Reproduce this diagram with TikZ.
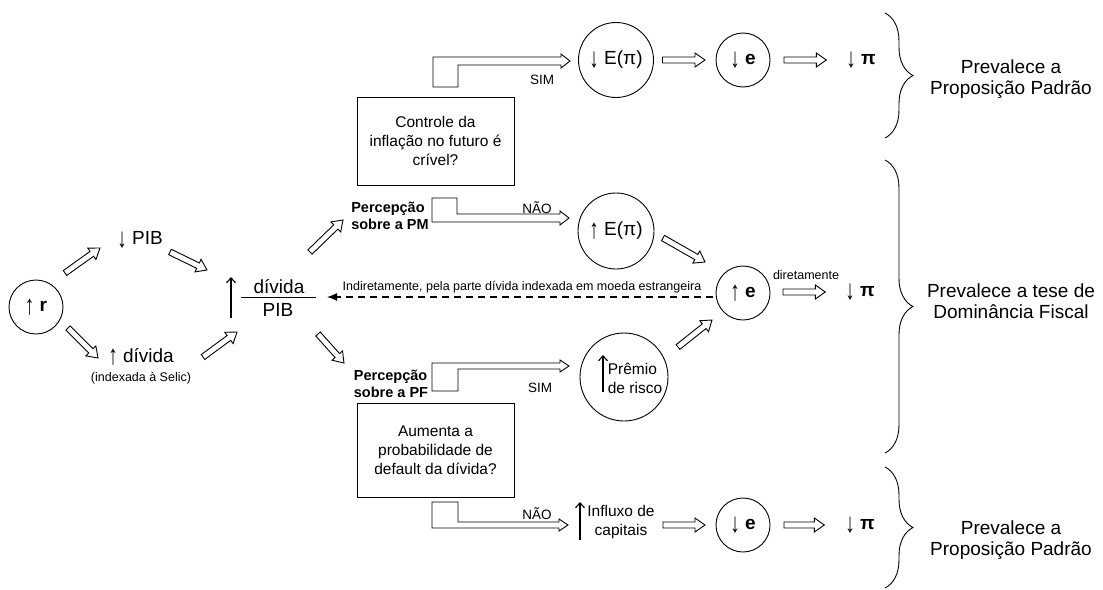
\documentclass[tikz,border=0pt]{standalone}
\usepackage{graphicx}
\usepackage{fontspec}
\setmainfont{Liberation Sans}
\usetikzlibrary{calc,arrows.meta,decorations.pathreplacing}
\newcommand{\myup}{\raisebox{-2.5pt}{\scalebox{1}[1.45]{↑}}}
\newcommand{\mydn}{\raisebox{-2.5pt}{\scalebox{1}[1.45]{↓}}}
\begin{document}
\begin{tikzpicture}[x=1pt,y=-1pt,line width=0.9pt,
  every node/.style={inner sep=0pt,outer sep=0pt},
  big/.style={font=\fontsize{19}{21}\selectfont},
  med/.style={font=\fontsize{15.5}{19}\selectfont},
  lab/.style={font=\fontsize{13.5}{16}\selectfont},
  sml/.style={font=\fontsize{12.5}{15}\selectfont},
  perc/.style={font=\bfseries\fontsize{14.5}{17}\selectfont,align=left},
  circ/.style={draw,circle,big},
  qbox/.style={draw,rectangle,med,align=center,minimum width=157pt},
  hol/.style={to path={
    let \p1=(\tikztostart), \p2=(\tikztotarget),
        \n1={atan2(\y2-\y1,\x2-\x1)},
        \n2={veclen(\x2-\x1,\y2-\y1)-10}
    in ($(\p1)+(\n1+90:3pt)$)
    -- ($(\p1)+(\n1:\n2)+(\n1+90:3pt)$)
    -- ($(\p1)+(\n1:\n2)+(\n1+90:7pt)$)
    -- (\p2)
    -- ($(\p1)+(\n1:\n2)+(\n1-90:7pt)$)
    -- ($(\p1)+(\n1:\n2)+(\n1-90:3pt)$)
    -- ($(\p1)+(\n1-90:3pt)$) -- cycle}},
  uparr/.style={-{Straight Barb[length=5pt,width=9pt]},line width=1.1pt},
  brc/.style={decorate,decoration={brace,amplitude=28pt}},
  dasharr/.style={line width=1.3pt,dash pattern=on 7pt off 5pt,-{Latex[length=10pt,width=8pt]}}
]
\useasboundingbox (0,0) rectangle (1103,589);

% left part
\node[circ,minimum size=54pt] (r) at (36,307) {\myup\ \textbf{r}};
\node[big] (pib) at (140,240) {\mydn\ PIB};
\node[big] (div) at (141,357) {\myup\ dívida};
\node[sml] (idx) at (141,378) {(indexada à Selic)};
\node[big] (dv) at (279,287) {dívida};
\node[big] (pb) at (278,310) {PIB};
\draw (241,297) -- (316,297);
\draw[uparr] (231,318) -- (231,277);

\draw[hol] (65,273) to (100,248);
\draw[hol] (170,252) to (207,270);
\draw[hol] (68,328) to (98,358);
\draw[hol] (203,357) to (237,332);
\draw[hol] (310,252) to (343,220);
\draw[hol] (318,334) to (344,363);

% questions
\node[qbox,minimum height=88pt] (q1) at (435.5,141) {Controle da\\inflação no futuro é\\crível?};
\node[qbox,minimum height=94pt] (q2) at (435.5,450) {Aumenta a\\probabilidade de\\default da dívida?};
\node[perc] (pm) at (390,216) {Percepção\\sobre a PM};
\node[perc] (pf) at (391,384) {Percepção\\sobre a PF};

% elbow arrows
\draw (433,87) -- (433,57) -- (561,57) -- (561,54) -- (570,61) -- (561,68) -- (561,65) -- (458,65) -- (458,87) -- cycle;
\draw (432,198) -- (457,198) -- (457,214) -- (560,214) -- (560,211) -- (569,218) -- (560,225) -- (560,222) -- (432,222) -- cycle;
\draw (432,363) -- (560,363) -- (560,360) -- (569,366) -- (560,372) -- (560,369) -- (458,369) -- (458,391) -- (432,391) -- cycle;
\draw (432,502) -- (458,502) -- (458,522) -- (559,522) -- (559,519) -- (568,525) -- (559,531) -- (559,528) -- (432,528) -- cycle;
\node[lab] (sim1) at (542,80) {SIM};
\node[lab] (nao1) at (537,208) {NÃO};
\node[lab] (sim2) at (540,388) {SIM};
\node[lab] (nao2) at (537,514) {NÃO};

% top row
\node[circ,minimum size=75pt] (epi1) at (616,60) {\mydn\ E(π)};
\node[circ,minimum size=54pt] (e1) at (743,60) {\mydn\ \textbf{e}};
\node[big] (pi1) at (861,60) {\mydn\ \textbf{π}};
\draw[hol] ($(epi1.east)+(9,0)$) to ($(e1.west)+(-11,0)$);
\draw[hol] ($(e1.east)+(14,0)$) to ($(pi1.west)+(-20,0)$);

% middle row
\node[circ,minimum size=76pt] (epi2) at (616,231) {\myup\ E(π)};
\node[circ,minimum size=54pt] (ue) at (743,293) {\myup\ \textbf{e}};
\node[big] (pi2) at (860,292) {\mydn\ \textbf{π}};
\node[sml] (dir) at (806,275) {diretamente};
\draw[hol] (663,238) to (705,262);
\draw[hol] ($(ue.east)+(13,-1)$) to ($(pi2.west)+(-20,0)$);

\node[draw,circle,minimum size=88pt] (prem) at (624,377) {};
\node[med,align=left] (premt) at (635,378) {Prêmio\\de risco};
\draw[uparr] (603,392) -- (603,355);
\draw[hol] (678,347) to (712,320);

\coordinate (dashend) at (327,297);
\draw[dasharr] ([xshift=-3pt]ue.west |- dashend) -- (dashend);
\node[sml] (ind) at (522,287) {Indiretamente, pela parte dívida indexada em moeda estrangeira};

% bottom row
\draw[uparr] (580,540) -- (580,502);
\node[med,align=center] (infl) at (621,522) {Influxo de\\capitais};
\node[circ,minimum size=54pt] (e3) at (743,525) {\mydn\ \textbf{e}};
\node[big] (pi3) at (860,525) {\mydn\ \textbf{π}};
\draw[hol] (663,525) to ($(e3.west)+(-11,0)$);
\draw[hol] ($(e3.east)+(14,0)$) to ($(pi3.west)+(-21,0)$);

% braces
\draw[brc] (885,13) -- (885,138);
\draw[brc] (885,160) -- (885,453);
\draw[brc] (885,467) -- (885,588);
\node[big,align=center] (t1) at (1011,79) {Prevalece a\\Proposição Padrão};
\node[big,align=center] (t2) at (1011,301) {Prevalece a tese de\\Dominância Fiscal};
\node[big,align=center] (t3) at (1011,540) {Prevalece a\\Proposição Padrão};
\end{tikzpicture}
\end{document}
